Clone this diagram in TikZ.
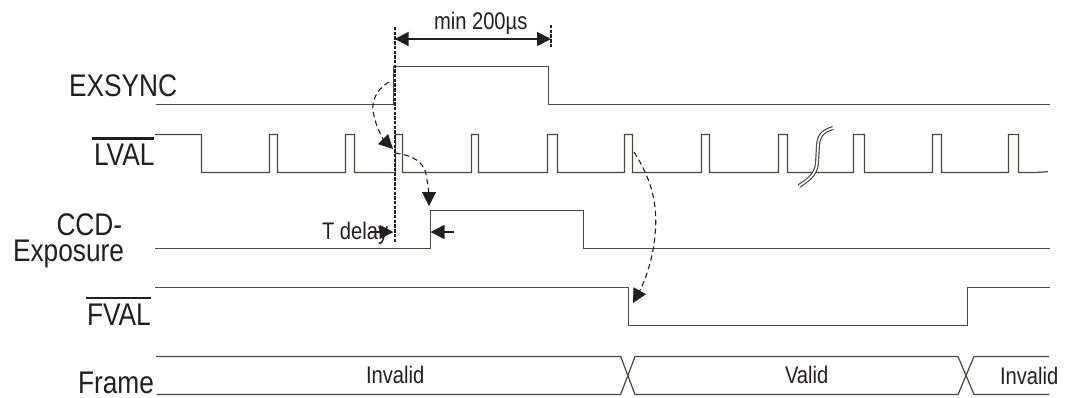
\documentclass[tikz,border=0pt]{standalone}
\usepackage{fontspec}
\usetikzlibrary{arrows.meta}
\newfontfamily\narrowsans[FakeStretch=0.84]{Liberation Sans}
\definecolor{sig}{HTML}{4A4644}
\definecolor{ink}{HTML}{231F20}
\tikzset{
  signal/.style={draw=sig,line width=1.2pt,line join=miter},
  biglabel/.style={anchor=base west,inner sep=0pt,outer sep=0pt,text=ink,font=\narrowsans\fontsize{31.3}{32}\selectfont},
  smalllabel/.style={anchor=base west,inner sep=0pt,outer sep=0pt,text=ink,font=\narrowsans\fontsize{24}{26}\selectfont},
  overbar/.style={draw=ink,line width=2.6pt},
  guide/.style={draw=ink,line width=1.9pt,dash pattern=on 3.4pt off 1.3pt},
  dim/.style={draw=ink,line width=1.6pt,-{Triangle[length=14pt,width=14pt]}},
  dimboth/.style={draw=ink,line width=1.9pt,{Triangle[length=14pt,width=14pt]}-{Triangle[length=14pt,width=14pt]}},
  cause/.style={draw=ink,line width=1.1pt,dash pattern=on 5.5pt off 3.5pt,-{Triangle[length=14pt,width=14pt]}},
}
\begin{document}
\begin{tikzpicture}[x=1pt,y=-1pt]
\useasboundingbox (0,0) rectangle (1067,397);
\fill[white] (0,0) rectangle (1067,397);
% labels
\node[biglabel] (lexsync) at (69,96.7) {EXSYNC};
\node[biglabel] (llval) at (94,165) {LVAL};
\node[biglabel] (lccd) at (56.5,235.7) {CCD-};
\node[biglabel] (lexp) at (13,261.7) {Exposure};
\node[biglabel] (lfval) at (87,325) {FVAL};
\node[biglabel] (lframe) at (78,393) {Frame};
\node[smalllabel] (lmin) at (434,29) {min 200µs};
\node[smalllabel] (ltdelay) at (322,239) {T delay};
\node[smalllabel] (linv1) at (366,383) {Invalid};
\node[smalllabel] (lvalid) at (785,383) {Valid};
\node[smalllabel] (linv2) at (1000,384) {Invalid};
% overlines
\draw[overbar] (92,138.5) -- (154,138.5);
\draw[overbar] (86,297.8) -- (151,297.8);
% EXSYNC
\draw[signal] (156,104.5) -- (393.5,104.5) -- (393.5,66.5) -- (548.5,66.5) -- (548.5,104.5) -- (1050,104.5);
% LVAL
\draw[signal] (155,134.5) -- (201.5,134.5) -- (201.5,172.5)
  -- (269.5,172.5) -- (269.5,134.5) -- (277.5,134.5) -- (277.5,172.5)
  -- (345.5,172.5) -- (345.5,134.5) -- (354.5,134.5) -- (354.5,172.5)
  -- (395.5,172.5) -- (395.5,134.5) -- (402.5,134.5) -- (402.5,172.5)
  -- (471.5,172.5) -- (471.5,134.5) -- (478.5,134.5) -- (478.5,172.5)
  -- (547.5,172.5) -- (547.5,134.5) -- (557.5,134.5) -- (557.5,172.5)
  -- (624.5,172.5) -- (624.5,134.5) -- (632.5,134.5) -- (632.5,172.5)
  -- (701.5,172.5) -- (701.5,134.5) -- (709.5,134.5) -- (709.5,172.5)
  -- (778.5,172.5) -- (778.5,134.5) -- (787.5,134.5) -- (787.5,172.5)
  -- (853.5,172.5) -- (853.5,134.5) -- (864.5,134.5) -- (864.5,172.5)
  -- (932.5,172.5) -- (932.5,134.5) -- (941.5,134.5) -- (941.5,172.5)
  -- (1008.5,172.5) -- (1008.5,134.5) -- (1018.5,134.5) -- (1018.5,172.5)
  -- (1035,172.5) -- (1048,171.7);
% CCD exposure
\draw[signal] (155,248.5) -- (430.5,248.5) -- (430.5,210.5) -- (583.5,210.5) -- (583.5,248.5) -- (1050,248.5);
% FVAL
\draw[signal] (155,287.5) -- (628.5,287.5) -- (628.5,325.5) -- (967.5,325.5) -- (967.5,287.5) -- (1050,287.5);
% Frame
\draw[signal] (156,356.5) -- (620.7,356.5) -- (635,394.5) -- (958,394.5) -- (974,356.5) -- (1049,356.5);
\draw[signal] (156.5,394.5) -- (620.7,394.5) -- (635,356.5) -- (958,356.5) -- (974,394.5) -- (1049,394.5);
% break mark
\draw[draw=sig,line width=4pt,line cap=butt] (799,186) .. controls (806,181) and (816,176) .. (817,163) -- (818,145) .. controls (819,134) and (824,131) .. (833,128);
\draw[draw=white,line width=1.7pt,line cap=butt] (799,186) .. controls (806,181) and (816,176) .. (817,163) -- (818,145) .. controls (819,134) and (824,131) .. (833,128);
% guides
\coordinate (ga) at (394.7,27);
\coordinate (gb) at (394.7,242);
\coordinate (gc) at (551,25);
\coordinate (gd) at (551,47);
\draw[guide] (ga) -- (gb);
\draw[guide] (gc) -- (gd);
\coordinate (da) at (394.7,39);
\coordinate (db) at (551,39);
\draw[dimboth] (da) -- (db);
% T delay arrows
\coordinate (ta) at (370,232);
\coordinate (tb) at (393.5,232);
\coordinate (tc) at (454,232);
\coordinate (td) at (430.5,232);
\draw[dim] (ta) -- (tb);
\draw[dim] (tc) -- (td);
% dashed cause arrows
\coordinate (c1s) at (389,82);
\coordinate (c1e) at (393,149);
\coordinate (c2s) at (395,153);
\coordinate (c2e) at (429,206);
\coordinate (c3s) at (634,152);
\coordinate (c3e) at (633,303);
\draw[cause] (c1s) .. controls (375,90) and (372,103) .. (373,110) .. controls (374,122) and (382,138) .. (c1e);
\draw[cause] (c2s) .. controls (412,155) and (424,162) .. (426,174) .. controls (428,185) and (429,195) .. (c2e);
\draw[cause] (c3s) .. controls (652,180) and (658,205) .. (655,235) .. controls (653,260) and (644,283) .. (c3e);
\end{tikzpicture}
\end{document}
